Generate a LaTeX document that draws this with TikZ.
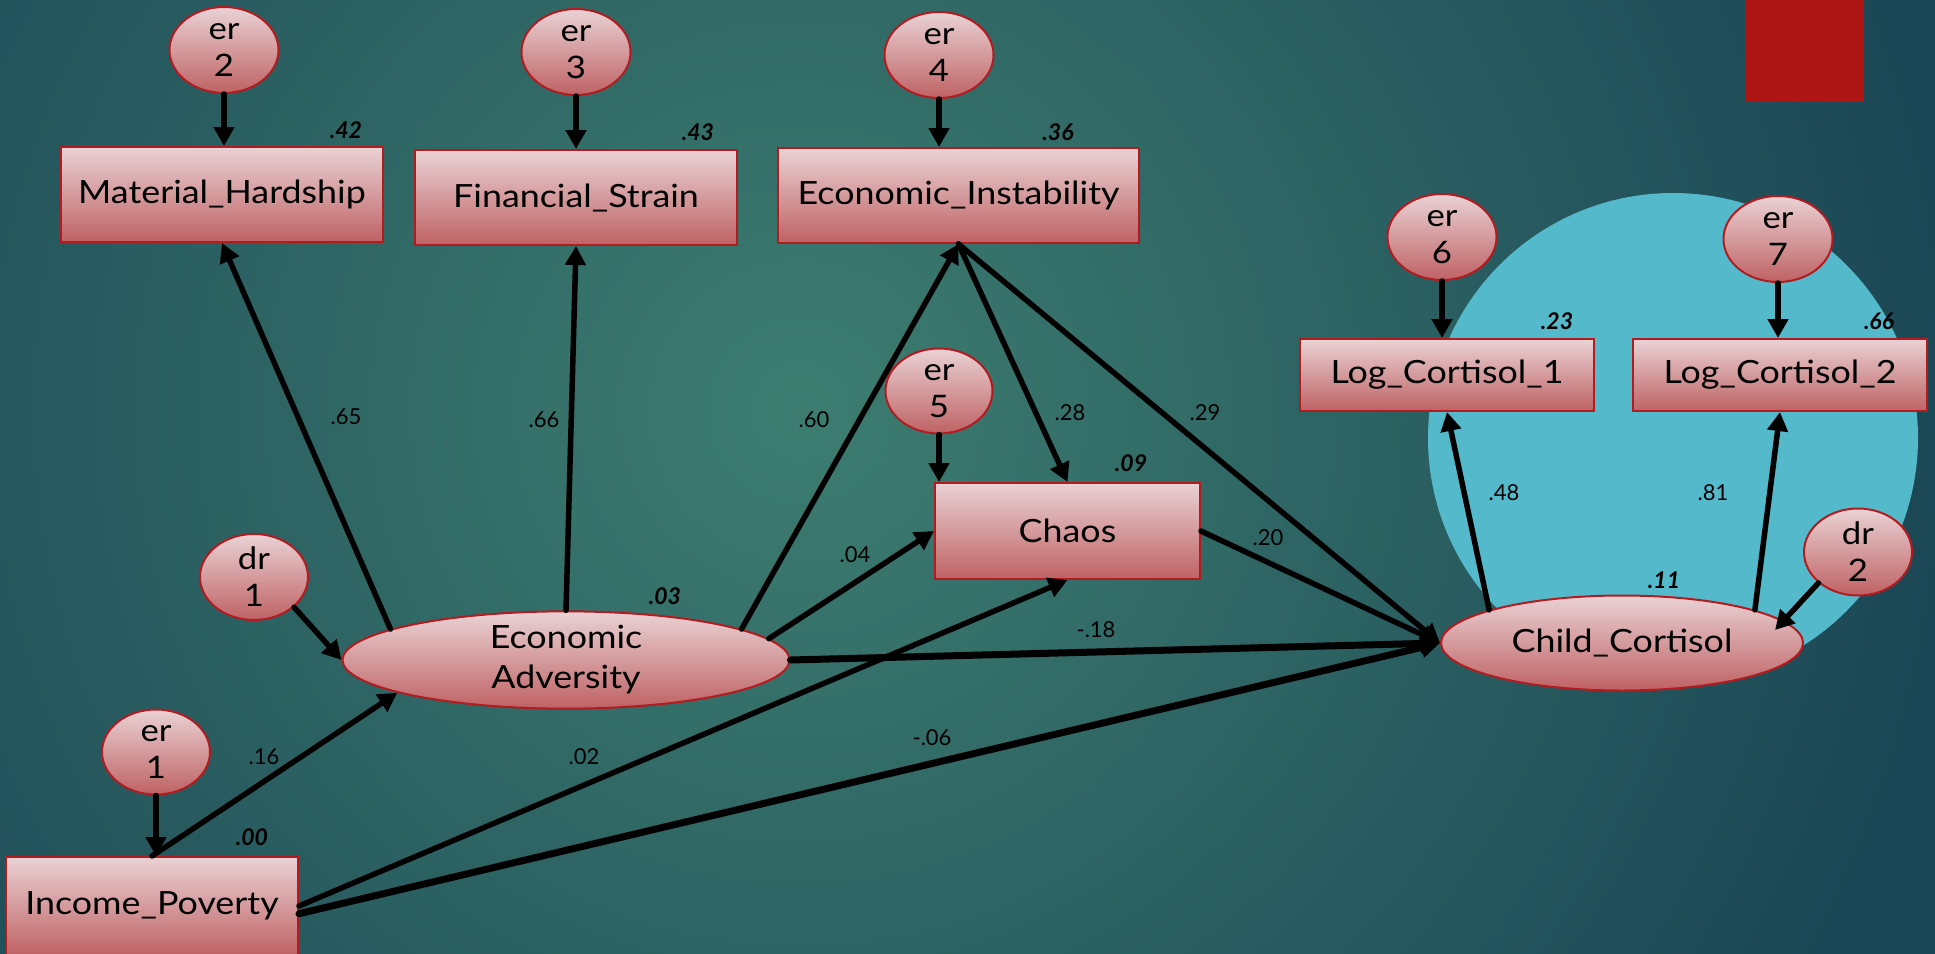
\documentclass[tikz,border=0pt]{standalone}
\usepackage{fontspec}
\setmainfont{Lato}
\newfontfamily\nodefont[FakeStretch=1.12]{Lato}
\usetikzlibrary{arrows.meta,calc,shapes.geometric}
\definecolor{bgmid}{RGB}{61,125,112}
\definecolor{bgout}{RGB}{27,70,85}
\definecolor{nodetop}{RGB}{234,210,213}
\definecolor{nodebot}{RGB}{191,98,100}
\definecolor{nodeline}{RGB}{178,28,32}
\definecolor{cyanbg}{RGB}{83,185,203}
\definecolor{redsq}{RGB}{174,21,21}
\tikzset{
  varbox/.style={rectangle, draw=nodeline, line width=2pt, top color=nodetop, bottom color=nodebot,
    minimum width=#1, minimum height=95pt, inner sep=0pt, text=black, font=\nodefont\fontsize{32}{38}\selectfont},
  latent/.style={ellipse, draw=nodeline, line width=2pt, top color=nodetop, bottom color=nodebot,
    inner sep=0pt, align=center, text=black, font=\nodefont\fontsize{32}{40}\selectfont},
  errnode/.style={ellipse, draw=nodeline, line width=2pt, top color=nodetop, bottom color=nodebot,
    minimum width=109pt, minimum height=86pt, inner sep=0pt, align=center, text=black,
    font=\nodefont\fontsize{31}{37}\selectfont},
  conn/.style={line width=5.5pt, line cap=round, -{Triangle[length=19pt,width=20pt]}},
  thickconn/.style={conn, line width=7pt},
  coef/.style={inner sep=0pt, text=black, font=\fontsize{22}{24}\selectfont},
  rsq/.style={inner sep=0pt, text=black, font=\fontsize{23}{25}\selectfont\bfseries\itshape}
}
\begin{document}
\begin{tikzpicture}[x=1pt,y=-1pt]
\useasboundingbox (0,0) rectangle (1935,953);
% background
\fill[bgout] (-10,-10) rectangle (1945,963);
\begin{scope}
  \clip (-10,-10) rectangle (1945,963);
  \shade[inner color=bgmid, outer color=bgout] (800,410) circle (1160);
\end{scope}
\fill[redsq] (1745,-5) rectangle (1864,102);
\fill[cyanbg] (1673,438) circle (245);

% observed variables
\node[varbox=322pt] (MH) at (222,194.5) {Material\_Hardship};
\node[varbox=322pt] (FS) at (576,197.5) {Financial\_Strain};
\node[varbox=361pt] (EI) at (958.5,195.5) {Economic\_Instability};
\node[varbox=265pt, minimum height=96pt] (CH) at (1067.5,531) {Chaos};
\node[varbox=294pt, minimum height=72pt] (LC1) at (1447,375) {Log\_Cortisol\_1};
\node[varbox=294pt, minimum height=72pt] (LC2) at (1780,375) {Log\_Cortisol\_2};
\node[varbox=292pt, minimum height=98pt] (IP) at (152,906) {Income\_Poverty};

% latent variables
\node[latent, minimum width=447pt, minimum height=86pt] (EA) at (566,660) {Economic\\Adversity};
\node[latent, minimum width=362pt, minimum height=95pt] (CC) at (1622,643) {Child\_Cortisol};

% error terms
\node[errnode] (er2) at (224,50) {er\\2};
\node[errnode] (er3) at (576,52) {er\\3};
\node[errnode] (er4) at (939,55) {er\\4};
\node[errnode, minimum width=107pt, minimum height=85pt] (er5) at (939,391) {er\\5};
\node[errnode] (er6) at (1442,237) {er\\6};
\node[errnode] (er7) at (1778,239) {er\\7};
\node[errnode, minimum width=108pt] (dr1) at (254,577) {dr\\1};
\node[errnode, minimum width=108pt, minimum height=85pt] (er1) at (156,752) {er\\1};
\node[errnode, minimum width=108pt, minimum height=87pt] (dr2) at (1858,552) {dr\\2};

% squared multiple correlations
\node[rsq] (r42) at (346,130) {.42};
\node[rsq] (r43) at (698,132) {.43};
\node[rsq] (r36) at (1058,132) {.36};
\node[rsq] (r03) at (665,596) {.03};
\node[rsq] (r00) at (252,837) {.00};
\node[rsq] (r09) at (1131,463) {.09};
\node[rsq] (r23) at (1557,321) {.23};
\node[rsq] (r66) at (1879,321) {.66};
\node[rsq] (r11) at (1664,580) {.11};

% error arrows
\draw[conn] (er2.south) -- (er2.south |- MH.north);
\draw[conn] (er3.south) -- (er3.south |- FS.north);
\draw[conn] (er4.south) -- (er4.south |- EI.north);
\draw[conn] (er5.south) -- (er5.south |- CH.north);
\draw[conn] (er6.south) -- (er6.south |- LC1.north);
\draw[conn] (er7.south) -- (er7.south |- LC2.north);
\draw[conn] (er1.south) -- (er1.south |- IP.north);
\draw[conn] (dr1.-37) -- (EA.west);
\draw[conn] (dr2.218) -- ($(CC.east)+(-29,-13)$);

% structural paths
\draw[conn] (EA.170) -- (MH.south);
\draw[conn] (EA.north) -- (FS.south);
\draw[conn] (EA.10) -- (EI.south);
\draw[conn] (EA.6) -- (CH.west);
\draw[thickconn] (EA.east) -- (CC.west);
\draw[conn] (IP.north) -- (EA.191);
\draw[conn] (IP.east) -- (CH.south);
\draw[thickconn] (IP.-3) -- (CC.west);
\draw[conn] (EI.south) -- (CH.north);
\draw[conn] (EI.south) -- (CC.west);
\draw[conn] (CH.east) -- (CC.west);
\draw[conn] (CC.166) -- (LC1.south);
\draw[conn] (CC.14) -- (LC2.south);

% path coefficients
\node[coef] (c65) at (346,417) {.65};
\node[coef] (c66) at (544,420) {.66};
\node[coef] (c60) at (814,420) {.60};
\node[coef] (c28) at (1070,413) {.28};
\node[coef] (c29) at (1205,413) {.29};
\node[coef] (c04) at (855,555) {.04};
\node[coef] (c20) at (1268,538) {.20};
\node[coef] (c18) at (1096,630) {-.18};
\node[coef] (c16) at (264,757) {.16};
\node[coef] (c02) at (584,757) {.02};
\node[coef] (c06) at (932,738) {-.06};
\node[coef] (c48) at (1504,493) {.48};
\node[coef] (c81) at (1713,493) {.81};
\end{tikzpicture}
\end{document}
